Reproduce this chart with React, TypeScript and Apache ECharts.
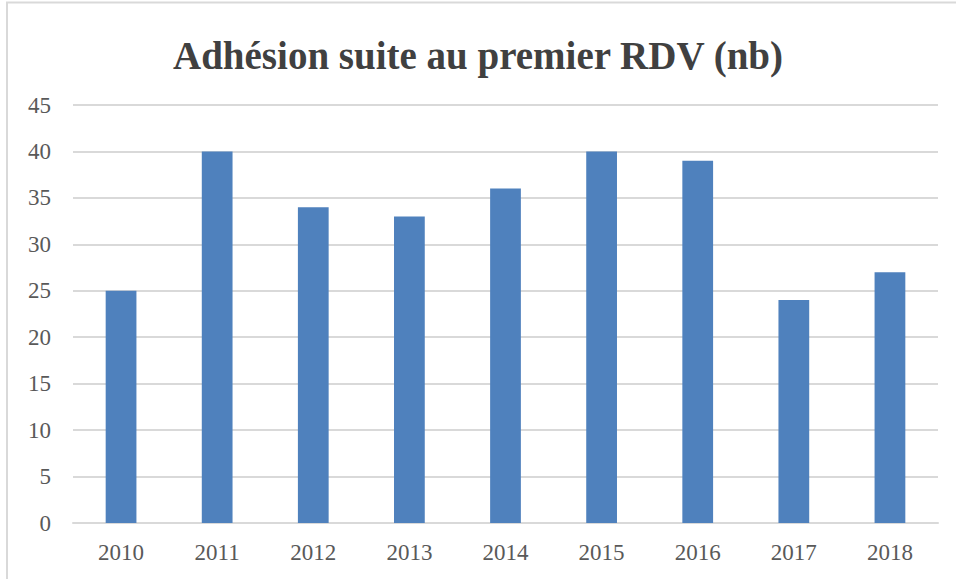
import React, { useEffect, useRef } from "react";
import * as echarts from "echarts";

const categories = ["2010", "2011", "2012", "2013", "2014", "2015", "2016", "2017", "2018"];
const values = [25, 40, 34, 33, 36, 40, 39, 24, 27];
const titleText = "Adhésion suite au premier RDV (nb)";
const yMin = 0;
const yMax = 45;
const yInterval = 5;

export default function App() {
  const ref = useRef<HTMLDivElement>(null);
  useEffect(() => {
    if (!ref.current) return;
    const chart = echarts.init(ref.current, null, { renderer: "svg" });
    const font = "'Liberation Serif', 'DejaVu Serif', serif";
    chart.setOption({
      animation: false,
      backgroundColor: "#ffffff",
      title: {
        text: titleText,
        left: "center",
        top: 31,
        textStyle: {
          fontFamily: font,
          fontWeight: "bold",
          fontSize: 39,
          color: "#404040",
        },
      },
      graphic: [
        {
          type: "rect",
          shape: { x: 7, y: 2.5, width: 1000, height: 1000 },
          style: { fill: "none", stroke: "#d9d9d9", lineWidth: 2 },
          silent: true,
        },
      ],
      grid: { left: 73, right: 18, top: 105, bottom: 56, containLabel: false },
      xAxis: {
        type: "category",
        data: categories,
        axisLine: { show: true, lineStyle: { color: "#d9d9d9", width: 2 } },
        axisTick: { show: false },
        axisLabel: { fontFamily: font, fontSize: 23, color: "#595959", margin: 18 },
      },
      yAxis: {
        type: "value",
        min: yMin,
        max: yMax,
        interval: yInterval,
        axisLine: { show: false },
        axisTick: { show: false },
        splitLine: { lineStyle: { color: "#d9d9d9", width: 2 } },
        axisLabel: { fontFamily: font, fontSize: 23, color: "#595959", margin: 22 },
      },
      series: [
        {
          type: "bar",
          data: values,
          barWidth: "32%",
          itemStyle: { color: "#4f81bd" },
        },
      ],
    });
    return () => chart.dispose();
  }, []);
  return (
    <div
      ref={ref}
      style={{ position: "fixed", left: 0, top: 0, width: 956, height: 579 }}
    />
  );
}
